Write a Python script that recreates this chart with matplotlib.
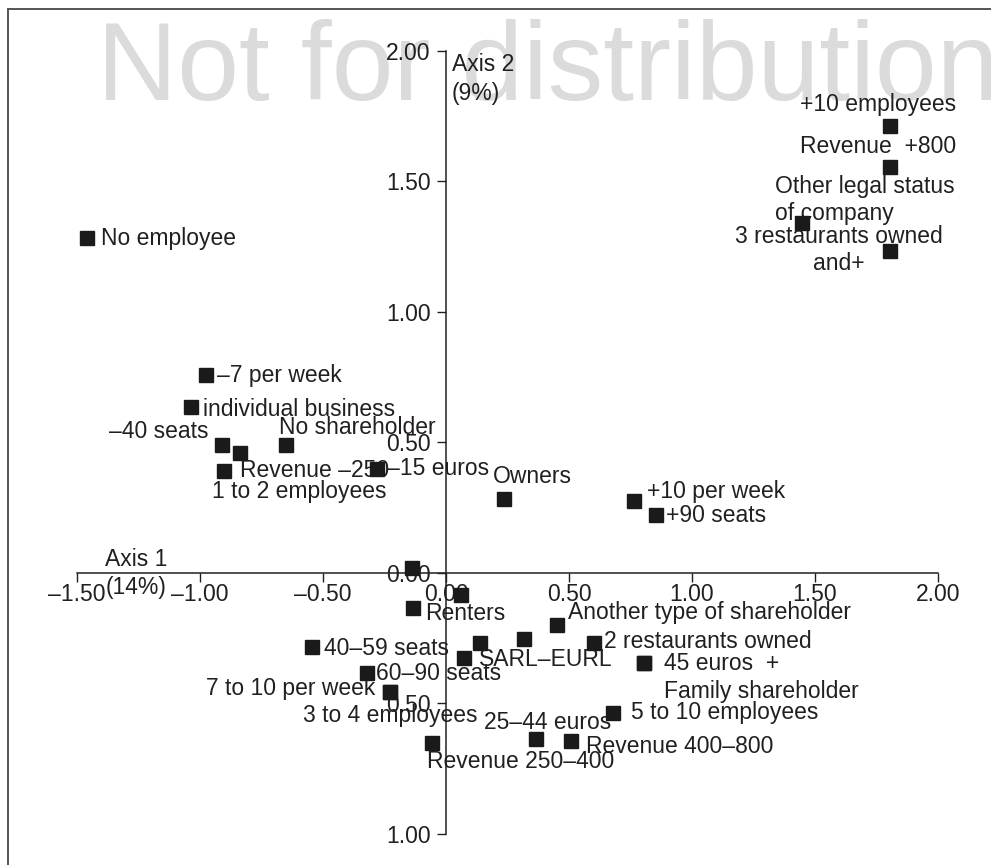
import matplotlib
matplotlib.use('Agg')
import matplotlib.pyplot as plt
from matplotlib.lines import Line2D

plt.rcParams['font.family'] = ['Liberation Sans', 'DejaVu Sans']

# categories of the factorial map (axis 1 / axis 2 coordinates)
labels = ['No employee', '+10 employees', 'Revenue  +800', 'Other legal status\nof company',
          '3 restaurants owned\nand+', '–7 per week', 'individual business', '–40 seats',
          'Revenue –250', '1 to 2 employees', 'No shareholder', '–15 euros', 'Owners',
          '+10 per week', '+90 seats', '', '', 'Renters', 'Another type of shareholder',
          '', '', 'SARL–EURL', '2 restaurants owned', '45 euros  +', 'Family shareholder',
          '40–59 seats', '60–90 seats', '7 to 10 per week', '3 to 4 employees',
          '5 to 10 employees', '25–44 euros', 'Revenue 400–800', 'Revenue 250–400']
axis1 = [-1.458, 1.806, 1.806, 1.447, 1.804, -0.976, -1.038, -0.912, -0.839, -0.904,
         -0.650, -0.280, 0.236, 0.764, 0.853, -0.139, 0.060, -0.135, 0.452, 0.316,
         0.137, 0.072, 0.603, 0.804, 0.804, -0.545, -0.320, -0.228, -0.228, 0.680,
         0.366, 0.507, -0.057]
axis2 = [1.282, 1.714, 1.555, 1.341, 1.233, 0.758, 0.634, 0.491, 0.460, 0.391,
         0.491, 0.399, 0.283, 0.276, 0.223, 0.018, -0.085, -0.134, -0.200, -0.254,
         -0.270, -0.325, -0.270, -0.345, -0.345, -0.286, -0.384, -0.457, -0.457, -0.539,
         -0.638, -0.645, -0.654]

x_ticks = [-1.5, -1.0, -0.5, 0.0, 0.5, 1.0, 1.5, 2.0]
x_ticklabels = ['–1.50', '–1.00', '–0.50', '0.00', '0.50', '1.00', '1.50', '2.00']
y_ticks = [-1.0, -0.5, 0.0, 0.5, 1.0, 1.5, 2.0]
y_ticklabels = ['1.00', '0.50', '0.00', '0.50', '1.00', '1.50', '2.00']

# label placement: offset in pixels from the marker, horizontal alignment
label_pos = [(14, 0, 'left'), (66, 21, 'right'), (66, 21, 'right'), (-27, 23, 'left'),
             (-51, 1, 'center'), (11, 0, 'left'), (12, -2, 'left'), (-13, 13, 'right'),
             (0, -18, 'left'), (-12, -21, 'left'), (-7, 17, 'left'), (10, 0, 'left'),
             (-11, 22, 'left'), (13, 9, 'left'), (10, -1, 'left'), None, None,
             (12, -6, 'left'), (11, 12, 'left'), None, None, (15, -2, 'left'),
             (10, 2, 'left'), (20, -1, 'left'), (20, -29, 'left'), (12, -1, 'left'),
             (9, -1, 'left'), (-15, 4, 'right'), (-87, -23, 'left'), (18, 1, 'left'),
             (-52, 17, 'left'), (15, -5, 'left'), (-5, -18, 'left')]

ink = '#231f20'
fs = 16.5

fig = plt.figure(figsize=(9.91, 8.65), dpi=100)
ax = fig.add_axes([77 / 991, 1 - 833.7 / 865, 861 / 991, 782.7 / 865])
ax.patch.set_alpha(0)

# watermark
fig.text(97 / 991, 1 - 100 / 865, 'Not for distribution', fontsize=80, color='#dbdbdb',
         ha='left', va='baseline', zorder=-1)

# page frame (only top and left visible)
fig.add_artist(Line2D([7.5 / 991, 7.5 / 991], [0, 1 - 8.5 / 865], transform=fig.transFigure,
                      color='#555555', lw=1.4))
fig.add_artist(Line2D([7.5 / 991, 1], [1 - 8.5 / 865, 1 - 8.5 / 865], transform=fig.transFigure,
                      color='#555555', lw=1.4))

ax.set_xlim(-1.5, 2.0)
ax.set_ylim(-1.0, 2.0)
for side in ['top', 'right']:
    ax.spines[side].set_visible(False)
ax.spines['left'].set_position(('data', 0))
ax.spines['bottom'].set_position(('data', 0))
for side in ['left', 'bottom']:
    ax.spines[side].set_color(ink)
    ax.spines[side].set_linewidth(1.1)

ax.set_xticks(x_ticks)
ax.set_xticklabels(x_ticklabels)
ax.set_yticks(y_ticks)
ax.set_yticklabels(y_ticklabels)
ax.tick_params(axis='both', direction='out', length=6.5, width=1.0, color=ink,
               labelsize=fs, labelcolor=ink)
ax.tick_params(axis='x', pad=1)
ax.tick_params(axis='y', pad=4.5)

ax.plot(axis1, axis2, 's', color='#1a1a1a', markersize=9.8, zorder=5, clip_on=False)

for lab, x, y, pos in zip(labels, axis1, axis2, label_pos):
    if pos is None:
        continue
    dx, dy, ha = pos
    ax.annotate(lab, (x, y), xytext=(dx, dy), textcoords='offset pixels', ha=ha, va='center',
                multialignment='left' if ha != 'center' else 'center',
                linespacing=1.25, fontsize=fs, color=ink, zorder=3)

ax.annotate('Axis 2\n(9%)', (0, 2.0), xytext=(6, -28), textcoords='offset pixels',
            ha='left', va='center', fontsize=fs, color=ink, linespacing=1.3)
ax.annotate('Axis 1', (-1.5, 0), xytext=(59, 13), textcoords='offset pixels',
            ha='center', va='center', fontsize=fs, color=ink)
ax.annotate('(14%)', (-1.5, 0), xytext=(59, -15), textcoords='offset pixels',
            ha='center', va='center', fontsize=fs, color=ink)

fig.savefig('out.png', dpi=100)
